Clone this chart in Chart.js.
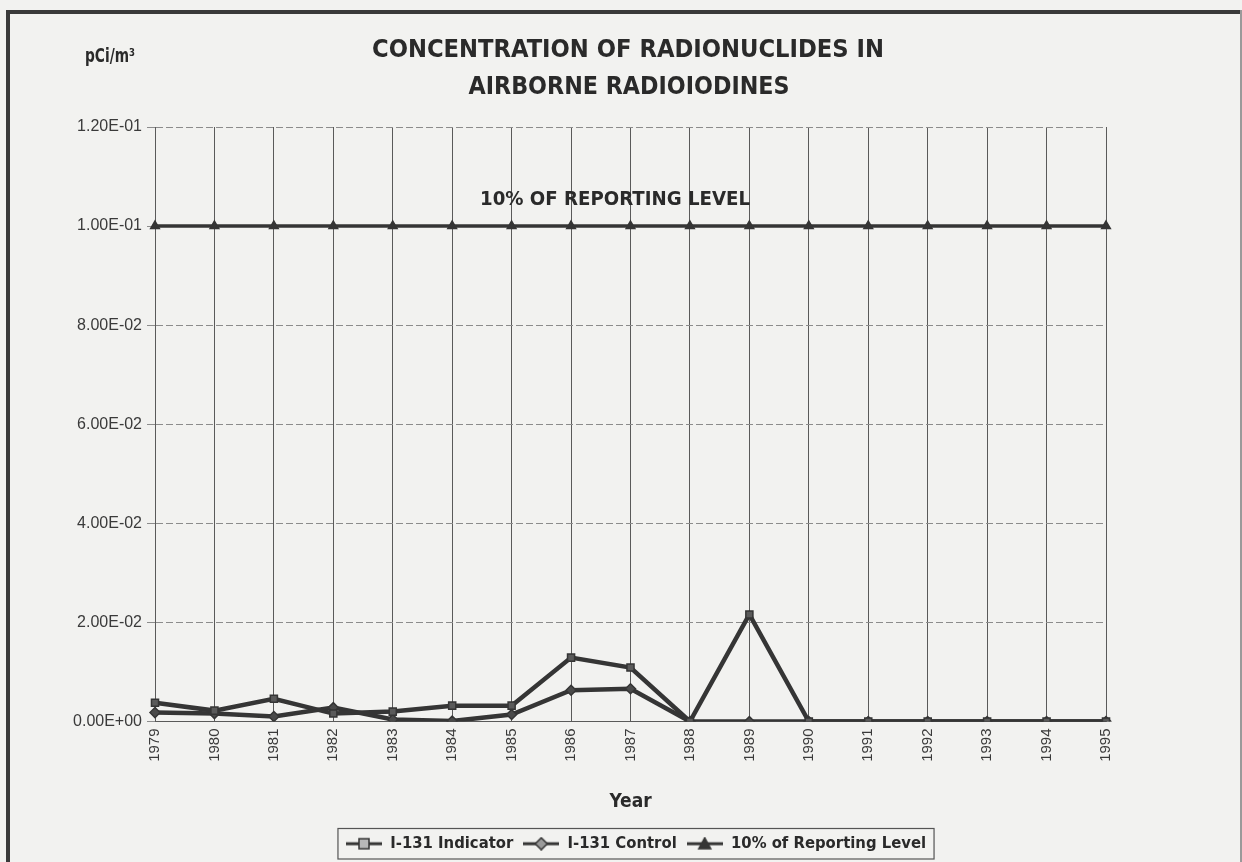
<!DOCTYPE html>
<html>
<head>
<meta charset="utf-8">
<script src="https://cdn.jsdelivr.net/npm/chart.js@4/dist/chart.umd.min.js"></script>
<style>
  html, body { margin: 0; padding: 0; background: #f2f2f0; }
  canvas { display: block; }
</style>
</head>
<body>
<canvas id="chart" width="1242" height="862"></canvas>
<script>
// Years on the category axis
const years = ['1979','1980','1981','1982','1983','1984','1985','1986','1987',
               '1988','1989','1990','1991','1992','1993','1994','1995'];

// Annual mean concentrations, pCi/m3
const indicator = [0.0038, 0.0022, 0.0046, 0.0016, 0.0020, 0.0032, 0.0032, 0.0129, 0.0109,
                   0.0000, 0.0216, 0.0000, 0.0000, 0.0000, 0.0000, 0.0000, 0.0000];
const control   = [0.0018, 0.0016, 0.0010, 0.0028, 0.0004, 0.0001, 0.0014, 0.0063, 0.0066,
                   0.0000, 0.0000, 0.0000, 0.0000, 0.0000, 0.0000, 0.0000, 0.0000];
const reportingLevel = [0.1, 0.1, 0.1, 0.1, 0.1, 0.1, 0.1, 0.1, 0.1,
                        0.1, 0.1, 0.1, 0.1, 0.1, 0.1, 0.1, 0.1];

// Value axis labels
const yTickLabels = ['0.00E+00','2.00E-02','4.00E-02','6.00E-02','8.00E-02','1.00E-01','1.20E-01'];

const seriesNames = ['I-131 Indicator', 'I-131 Control', '10% of Reporting Level'];
const titleLines = ['CONCENTRATION OF RADIONUCLIDES IN', 'AIRBORNE RADIOIODINES'];
const unitLabel = 'pCi/m\u00B3';
const levelNote = '10% OF REPORTING LEVEL';
const xTitle = 'Year';

const INK = '#353535';
const NARROW = '"Liberation Sans Narrow", "DejaVu Sans Condensed", "Liberation Sans", sans-serif';
const SANS = '"Liberation Sans", Arial, sans-serif';

// Small line-and-marker swatch for the legend
function makeKey(style, fill) {
  const c = document.createElement('canvas');
  c.width = 36; c.height = 14;
  const g = c.getContext('2d');
  g.strokeStyle = INK; g.lineWidth = 3;
  g.beginPath(); g.moveTo(0, 7); g.lineTo(36, 7); g.stroke();
  g.fillStyle = fill; g.lineWidth = 1.5;
  g.beginPath();
  if (style === 'rect') { g.rect(13, 2, 10, 10); }
  else if (style === 'rectRot') { g.moveTo(18, 1); g.lineTo(24, 7); g.lineTo(18, 13); g.lineTo(12, 7); g.closePath(); }
  else { g.moveTo(18, 1); g.lineTo(24, 12); g.lineTo(12, 12); g.closePath(); }
  g.fill(); g.stroke();
  return c;
}
const keys = [makeKey('rect', '#b8b8b8'), makeKey('rectRot', '#9a9a9a'), makeKey('triangle', INK)];

function fitText(ctx, text, cx, cy, font, targetW) {
  ctx.save();
  ctx.font = font;
  const w = ctx.measureText(text).width;
  ctx.translate(cx, cy);
  ctx.scale(targetW / w, 1);
  ctx.textAlign = 'center';
  ctx.textBaseline = 'middle';
  ctx.fillStyle = '#2a2a2a';
  ctx.fillText(text, 0, 0);
  ctx.restore();
}

const decorations = {
  id: 'decorations',
  beforeDraw(chart) {
    const ctx = chart.ctx;
    ctx.save();
    ctx.fillStyle = '#f2f2f0';
    ctx.fillRect(0, 0, chart.width, chart.height);
    // sheet frame
    ctx.fillStyle = '#3a3a3a';
    ctx.fillRect(6, 10, chart.width - 6, 4);
    ctx.fillRect(6, 10, 4, chart.height - 10);
    ctx.fillStyle = '#9a9a9a';
    ctx.fillRect(chart.width - 2, 10, 2, chart.height - 10);
    ctx.restore();
  },
  afterDraw(chart) {
    const ctx = chart.ctx;
    fitText(ctx, titleLines[0], 628, 50, 'bold 25px ' + NARROW, 512);
    fitText(ctx, titleLines[1], 629, 87, 'bold 25px ' + NARROW, 321);
    fitText(ctx, unitLabel, 110, 57, 'bold 19px ' + NARROW, 50);
    const yLevel = chart.scales.y.getPixelForValue(reportingLevel[0]);
    fitText(ctx, levelNote, 615, yLevel - 26, 'bold 19px ' + NARROW, 270);

    // frame around the legend
    const boxes = chart.legend.legendHitBoxes;
    if (boxes && boxes.length) {
      let l = Infinity, r = -Infinity, t = Infinity, b = -Infinity;
      boxes.forEach(h => {
        l = Math.min(l, h.left); r = Math.max(r, h.left + h.width);
        t = Math.min(t, h.top); b = Math.max(b, h.top + h.height);
      });
      ctx.save();
      ctx.strokeStyle = '#555';
      ctx.lineWidth = 1.2;
      ctx.strokeRect(l - 8, t - 7, (r - l) + 16, (b - t) + 14);
      ctx.restore();
    }
  }
};

const common = { borderColor: INK, tension: 0, pointRadius: 5, pointHoverRadius: 5,
                 pointBorderColor: INK, pointBorderWidth: 1.5 };

new Chart(document.getElementById('chart'), {
  type: 'line',
  data: {
    labels: years,
    datasets: [
      Object.assign({ label: seriesNames[0], data: indicator, borderWidth: 4.5,
        pointStyle: 'rect', pointBackgroundColor: '#5a5a5a' }, common),
      Object.assign({ label: seriesNames[1], data: control, borderWidth: 4.5,
        pointStyle: 'rectRot', pointBackgroundColor: '#4a4a4a' }, common),
      Object.assign({ label: seriesNames[2], data: reportingLevel, borderWidth: 3.5,
        pointStyle: 'triangle', pointBackgroundColor: INK }, common)
    ]
  },
  options: {
    responsive: false,
    devicePixelRatio: 1,
    animation: false,
    events: [],
    layout: { padding: { left: 30, right: 0, top: 127, bottom: 0 } },
    scales: {
      x: {
        offset: false,
        afterFit(scale) { scale.height = 104; },
        grid: { color: '#5a5a5a', lineWidth: 1, drawTicks: false },
        border: { display: true, color: '#5a5a5a', width: 1 },
        ticks: { minRotation: 90, maxRotation: 90, padding: 7, color: '#3a3a3a',
                 font: { family: SANS, size: 15 } },
        title: { display: true, text: xTitle, color: '#2a2a2a',
                 font: { family: NARROW, size: 19, weight: 'bold' }, padding: { top: 0, bottom: 12 } }
      },
      y: {
        min: 0, max: 0.12,
        afterFit(scale) { scale.width = 125; },
        grid: { color: '#8c8c8c', lineWidth: 1, tickLength: 8 },
        border: { display: true, color: '#5a5a5a', width: 1, dash: [7, 3] },
        ticks: {
          stepSize: 0.02, padding: 5, color: '#3a3a3a',
          font: { family: SANS, size: 16 },
          callback: (v) => yTickLabels[Math.round(v / 0.02)]
        }
      },
      // blank margin to the right of the plot
      margin: {
        position: 'right', min: 0, max: 0.12,
        afterFit(scale) { scale.width = 136; },
        grid: { display: false, drawOnChartArea: false },
        border: { display: false },
        ticks: { display: false }
      }
    },
    plugins: {
      title: { display: false },
      tooltip: { enabled: false },
      legend: {
        position: 'bottom',
        labels: {
          usePointStyle: true,
          pointStyleWidth: 36,
          padding: 10,
          color: '#2a2a2a',
          font: { family: NARROW, size: 16.5, weight: 'bold' },
          generateLabels(chart) {
            const items = Chart.defaults.plugins.legend.labels.generateLabels(chart);
            items.forEach((it, i) => { it.pointStyle = keys[i]; });
            return items;
          }
        }
      }
    }
  },
  plugins: [decorations]
});
</script>
</body>
</html>
